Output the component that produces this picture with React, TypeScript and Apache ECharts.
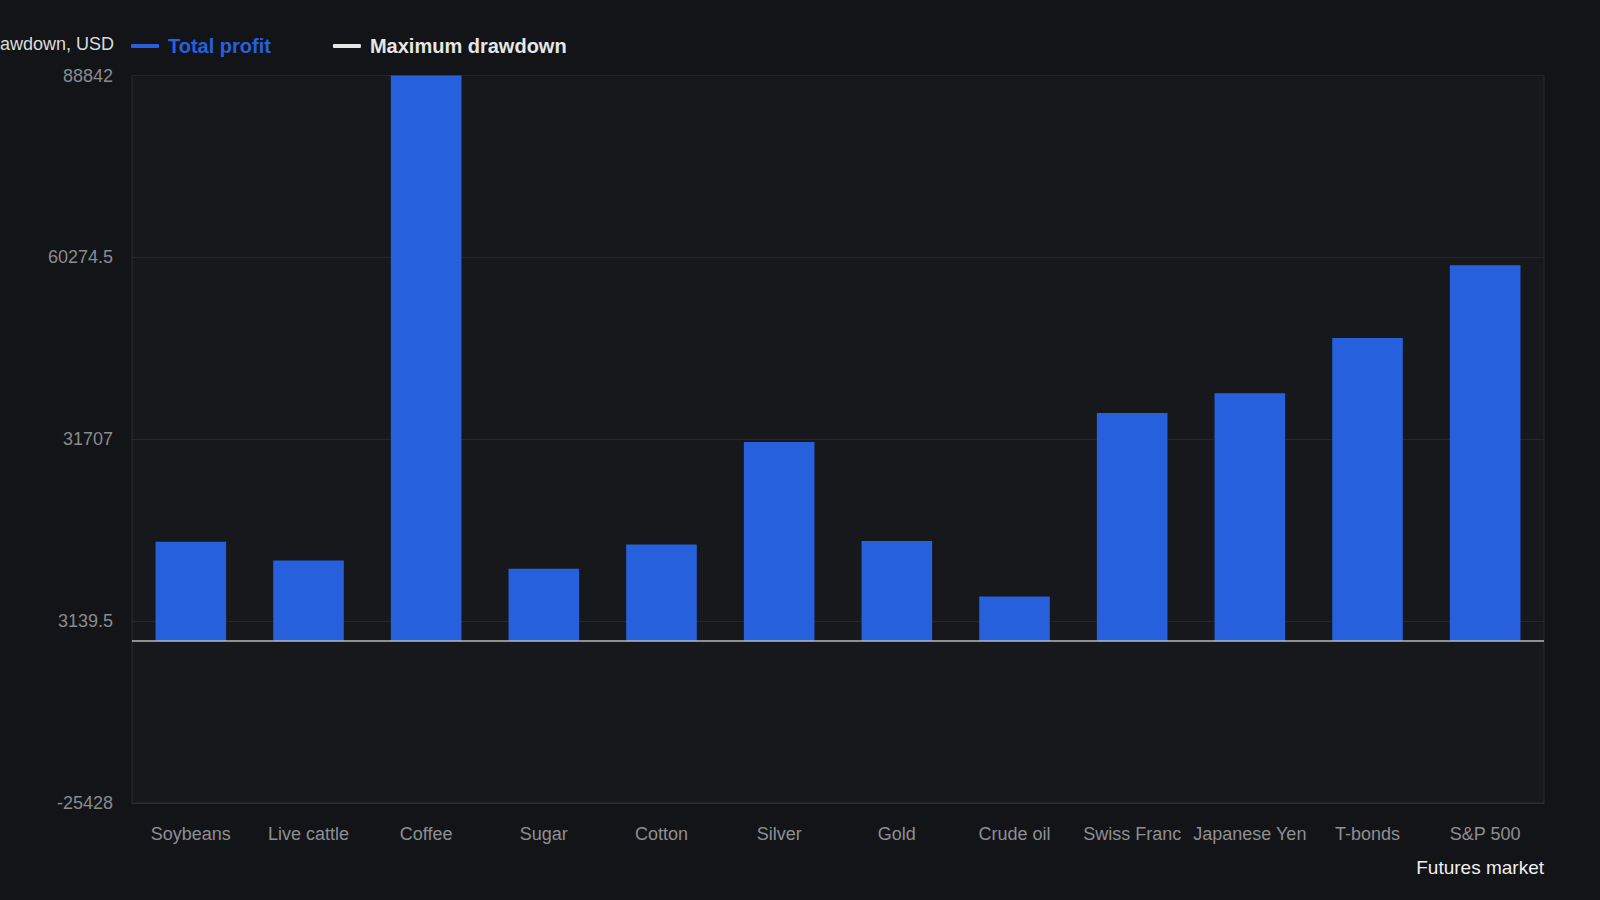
import React, { useEffect, useRef } from "react";
import * as echarts from "echarts";

const categories: string[] = [
  "Soybeans", "Live cattle", "Coffee", "Sugar", "Cotton", "Silver",
  "Gold", "Crude oil", "Swiss Franc", "Japanese Yen", "T-bonds", "S&P 500",
];
const totalProfit: number[] = [
  15620, 12680, 88842, 11380, 15190, 31280, 15730, 7020, 35840, 38920, 47620, 59030,
];
// No drawdown bars are visible in the reference
const maxDrawdown: (number | null)[] = [];
const yMin = -25428;
const yMax = 88842;
const yInterval = 28567.5;

const FONT = "'Liberation Sans', Arial, Helvetica, sans-serif";
const BLUE = "#2760dd";
const WHITE = "#e6e6e6";

export default function App() {
  const ref = useRef<HTMLDivElement>(null);
  useEffect(() => {
    if (!ref.current) return;
    const chart = echarts.init(ref.current, undefined, { renderer: "svg" });
    chart.setOption({
      animation: false,
      backgroundColor: "#131417",
      textStyle: { fontFamily: FONT },
      legend: {
        left: 126,
        top: 31,
        itemWidth: 28,
        itemHeight: 4,
        itemGap: 62,
        icon: "roundRect",
        data: [
          { name: "Total profit", textStyle: { color: BLUE } },
          { name: "Maximum drawdown", textStyle: { color: WHITE } },
        ],
        textStyle: {
          fontSize: 20,
          fontWeight: "bold",
          fontFamily: FONT,
          padding: [0, 0, 0, 4],
        },
      },
      grid: {
        left: 132,
        right: 56,
        top: 75.5,
        bottom: 97,
        containLabel: false,
        outerBoundsMode: "none",
        show: true,
        borderColor: "#2b2c30",
        borderWidth: 1,
        backgroundColor: "#17181b",
      },
      xAxis: {
        type: "category",
        data: categories,
        name: "Futures market",
        nameLocation: "end",
        nameGap: 0,
        nameTextStyle: {
          color: "#f0f0f0",
          fontSize: 19,
          fontFamily: FONT,
          align: "right",
          verticalAlign: "top",
          padding: [55, 0, 0, 0],
        },
        axisLine: { onZero: false, lineStyle: { color: "#2b2c30" } },
        axisTick: { show: false },
        axisLabel: {
          color: "#8e8f93",
          fontSize: 18,
          fontFamily: FONT,
          margin: 22,
          interval: 0,
        },
        splitLine: { show: false },
      },
      yAxis: {
        type: "value",
        min: yMin,
        max: yMax,
        interval: yInterval,
        name: "Total profit and maximum drawdown, USD",
        nameLocation: "end",
        nameGap: 32,
        nameTextStyle: {
          color: "#dcdcdc",
          fontSize: 18,
          fontFamily: FONT,
          align: "right",
          verticalAlign: "middle",
          padding: [0, 18, 0, 0],
        },
        axisLine: { show: false },
        axisTick: { show: false },
        axisLabel: {
          color: "#8a8b8f",
          fontSize: 18,
          fontFamily: FONT,
          margin: 19,
          formatter: (v: number) => String(v),
        },
        splitLine: { lineStyle: { color: "#25262a", width: 1 } },
      },
      series: [
        {
          name: "Total profit",
          type: "bar",
          data: totalProfit,
          barWidth: "60%",
          itemStyle: { color: BLUE },
          markLine: {
            silent: true,
            symbol: "none",
            label: { show: false },
            lineStyle: { color: "#b8b8b8", width: 1.6, type: "solid" },
            data: [{ yAxis: 0 }],
          },
        },
        {
          name: "Maximum drawdown",
          type: "line",
          data: maxDrawdown,
          itemStyle: { color: WHITE },
          lineStyle: { color: WHITE },
          showSymbol: false,
        },
      ],
    });
    return () => chart.dispose();
  }, []);
  return (
    <div
      ref={ref}
      style={{ position: "fixed", left: 0, top: 0, width: 1600, height: 900 }}
    />
  );
}
